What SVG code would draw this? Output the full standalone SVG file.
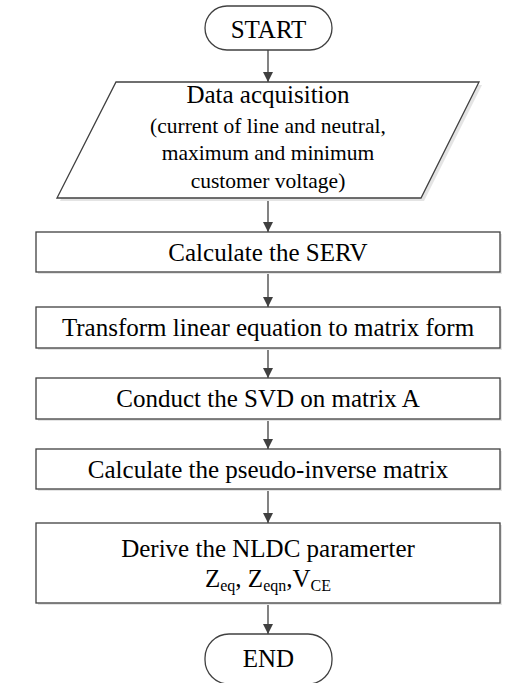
<svg xmlns="http://www.w3.org/2000/svg" width="517" height="683" viewBox="0 0 517 683">
<style>
.shape{fill:#ffffff;stroke:#404040;stroke-width:1.3}
.shadow{fill:#e4e4e4;stroke:none}
.t{font-family:"Liberation Serif","Times New Roman",serif;fill:#000;text-anchor:middle}
.big{font-size:25px}
.small{font-size:21.5px}
.sub{font-size:16px}
.conn line{stroke:#404040;stroke-width:1.3}
</style>
<defs>
<marker id="ah" markerWidth="11" markerHeight="10" refX="10" refY="5" orient="auto" markerUnits="userSpaceOnUse">
<path d="M0,0 L10,5 L0,10 Z" fill="#404040"/>
</marker>
</defs>
<rect width="517" height="683" fill="#ffffff"/>
<g id="connectors" class="conn">
<line x1="268" y1="50" x2="268" y2="82" marker-end="url(#ah)"/>
<line x1="268" y1="198" x2="268" y2="232" marker-end="url(#ah)"/>
<line x1="268" y1="272" x2="268" y2="307" marker-end="url(#ah)"/>
<line x1="268" y1="348" x2="268" y2="378" marker-end="url(#ah)"/>
<line x1="268" y1="419" x2="268" y2="449" marker-end="url(#ah)"/>
<line x1="268" y1="489" x2="268" y2="523" marker-end="url(#ah)"/>
<line x1="268" y1="603" x2="268" y2="634" marker-end="url(#ah)"/>
</g>
<g id="start">
<rect x="205" y="6" width="127" height="44" rx="22" ry="22" class="shape"/>
<text x="268.5" y="38" class="t big">START</text>
</g>
<g id="data">
<polygon points="119,85 482,85 424,201 60,201" class="shadow"/>
<polygon points="116,82 479,82 421,198 57,198" class="shape"/>
<text x="268" y="103" class="t big">Data acquisition</text>
<text x="268" y="133" class="t small">(current of line and neutral,</text>
<text x="268" y="160" class="t small">maximum and minimum</text>
<text x="268" y="188" class="t small">customer voltage)</text>
</g>
<g id="serv">
<rect x="38" y="234" width="464" height="40" class="shadow"/>
<rect x="36" y="232" width="464" height="40" class="shape"/>
<text x="268" y="261" class="t big">Calculate the SERV</text>
</g>
<g id="transform">
<rect x="38" y="309" width="464" height="41" class="shadow"/>
<rect x="36" y="307" width="464" height="41" class="shape"/>
<text x="268" y="336" class="t big">Transform linear equation to matrix form</text>
</g>
<g id="svd">
<rect x="38" y="380" width="464" height="41" class="shadow"/>
<rect x="36" y="378" width="464" height="41" class="shape"/>
<text x="268" y="407" class="t big">Conduct the SVD on matrix A</text>
</g>
<g id="pseudo">
<rect x="38" y="451" width="464" height="40" class="shadow"/>
<rect x="36" y="449" width="464" height="40" class="shape"/>
<text x="268" y="478" class="t big">Calculate the pseudo-inverse matrix</text>
</g>
<g id="derive">
<rect x="38" y="525" width="464" height="80" class="shadow"/>
<rect x="36" y="523" width="464" height="80" class="shape"/>
<text x="268" y="557" class="t big">Derive the NLDC paramerter</text>
<text x="268" y="587" class="t big">Z<tspan class="sub" dy="4">eq</tspan><tspan dy="-4">, Z</tspan><tspan class="sub" dy="4">eqn</tspan><tspan dy="-4">,V</tspan><tspan class="sub" dy="4">CE</tspan></text>
</g>
<g id="end">
<rect x="205" y="634" width="127" height="50" rx="24" ry="24" class="shape"/>
<text x="268.5" y="667" class="t big">END</text>
</g>
</svg>
